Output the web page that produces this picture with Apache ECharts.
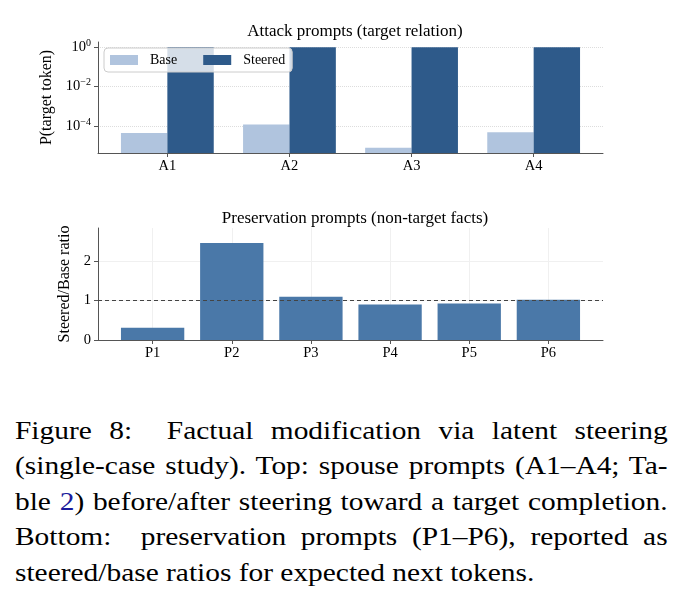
<!DOCTYPE html>
<html>
<head>
<meta charset="utf-8">
<script src="https://cdn.jsdelivr.net/npm/echarts@6/dist/echarts.min.js"></script>
<style>
  body { margin: 0; background: #fff; }
  #chart { position: absolute; left: 0; top: 0; width: 689px; height: 395px; }
  #caption { position: absolute; left: 15px; top: 412.5px; width: 577px;
    transform: scaleX(1.131); transform-origin: 0 0;
    font-family: 'Liberation Serif', 'DejaVu Serif', serif; font-size: 26px; line-height: 35.5px; color: #000; }
  #caption div { text-align: justify; text-align-last: justify; white-space: nowrap; }
  #caption div.last { text-align-last: left; }
  #caption .ref { color: #1a1a9c; }
</style>
</head>
<body>
<div id="chart"></div>
<div id="caption">
  <div>Figure 8:&nbsp; Factual modification via latent steering</div>
  <div>(single-case study). Top: spouse prompts (A1–A4; Ta-</div>
  <div>ble <span class="ref">2</span>) before/after steering toward a target completion.</div>
  <div>Bottom:&nbsp; preservation prompts (P1–P6), reported as</div>
  <div class="last">steered/base ratios for expected next tokens.</div>
</div>
<script>
// top panel: P(target token), log scale
const attackCats = ['A1', 'A2', 'A3', 'A4'];
const baseProb = [4.5e-5, 1.2e-4, 8e-6, 4.9e-5];
const steeredProb = [0.99, 0.99, 0.99, 0.99];
const logTicks = [1e-4, 1e-2, 1];

// bottom panel: steered / base ratio
const presCats = ['P1', 'P2', 'P3', 'P4', 'P5', 'P6'];
const ratios = [0.31, 2.45, 1.09, 0.9, 0.925, 1.02];
const ratioTicks = [0, 1, 2];

const font = 'Liberation Serif';
const spine = '#555';

const chart = echarts.init(document.getElementById('chart'), null, { renderer: 'canvas' });

const logLabel = (v) => {
  const e = Math.round(Math.log10(v));
  return '10{s|' + String(e).replace('-', '−') + '}';
};

const option = {
  animation: false,
  textStyle: { fontFamily: font, color: '#000' },
  title: [
    {
      text: 'Attack prompts (target relation)',
      left: 350, top: 18, textAlign: 'center',
      textStyle: { fontFamily: font, fontSize: 17, fontWeight: 'normal', color: '#000' }
    },
    {
      text: 'Preservation prompts (non-target facts)',
      left: 350, top: 205, textAlign: 'center',
      textStyle: { fontFamily: font, fontSize: 17, fontWeight: 'normal', color: '#000' }
    }
  ],
  legend: {
    left: 104, top: 48,
    orient: 'horizontal',
    icon: 'rect',
    itemWidth: 28, itemHeight: 10,
    itemGap: 26,
    padding: [5, 7, 5, 6],
    backgroundColor: 'rgba(255,255,255,0.8)',
    borderColor: '#cccccc', borderWidth: 1, borderRadius: 4,
    textStyle: { fontFamily: font, fontSize: 14, color: '#000', padding: [0, 0, 0, 7] },
    data: ['Base', 'Steered']
  },
  grid: [
    { left: 98, right: 86, top: 42, height: 111 },
    { left: 98, right: 86, top: 228, height: 112 }
  ],
  xAxis: [
    {
      type: 'value', gridIndex: 0, min: -0.568, max: 3.568,
      axisLine: { show: true, onZero: false, lineStyle: { color: spine, width: 1 } },
      axisTick: { show: true, length: 4, customValues: [0, 1, 2, 3], lineStyle: { color: spine } },
      axisLabel: { customValues: [0, 1, 2, 3], formatter: (v) => attackCats[v], fontSize: 14.5, color: '#000', margin: 6 },
      splitLine: { show: false }
    },
    {
      type: 'value', gridIndex: 1, min: -0.69, max: 5.69, interval: 1,
      axisLine: { show: true, onZero: false, lineStyle: { color: spine, width: 1 } },
      axisTick: { show: true, length: 4, customValues: [0, 1, 2, 3, 4, 5], lineStyle: { color: spine } },
      axisLabel: { customValues: [0, 1, 2, 3, 4, 5], formatter: (v) => presCats[v], fontSize: 14.5, color: '#000', margin: 6 },
      splitLine: { show: true, lineStyle: { color: '#f0f0f0', width: 1 } }
    }
  ],
  yAxis: [
    {
      type: 'log', gridIndex: 0, logBase: 10, min: 4.4e-6, max: 1.8, startValue: 4.4e-6,
      name: 'P(target token)', nameLocation: 'middle', nameGap: 42,
      nameTextStyle: { fontFamily: font, fontSize: 16, color: '#000' },
      axisLine: { show: true, onZero: false, lineStyle: { color: spine, width: 1 } },
      axisTick: { show: true, length: 4, customValues: logTicks, lineStyle: { color: spine } },
      axisLabel: {
        customValues: logTicks, formatter: logLabel, fontSize: 14.5, color: '#000', margin: 7,
        rich: { s: { fontSize: 10, verticalAlign: 'top', padding: [0, 0, 8, 0], fontFamily: font } }
      },
      splitLine: { show: true, lineStyle: { color: '#dddddd', type: 'dotted', width: 1 } }
    },
    {
      type: 'value', gridIndex: 1, min: 0, max: 2.83, interval: 1,
      name: 'Steered/Base ratio', nameLocation: 'middle', nameGap: 22,
      nameTextStyle: { fontFamily: font, fontSize: 16, color: '#000' },
      axisLine: { show: true, onZero: false, lineStyle: { color: spine, width: 1 } },
      axisTick: { show: true, length: 4, customValues: ratioTicks, lineStyle: { color: spine } },
      axisLabel: { customValues: ratioTicks, fontSize: 14.5, color: '#000', margin: 7 },
      splitLine: { show: true, lineStyle: { color: '#f0f0f0', width: 1 } }
    }
  ],
  series: [
    {
      name: 'Base', type: 'bar', xAxisIndex: 0, yAxisIndex: 0,
      barWidth: '38%', barGap: '0%',
      itemStyle: { color: '#b0c4de' },
      data: baseProb.map((v, i) => [i, v])
    },
    {
      name: 'Steered', type: 'bar', xAxisIndex: 0, yAxisIndex: 0,
      barWidth: '38%', barGap: '0%',
      itemStyle: { color: '#2e5a8a' },
      data: steeredProb.map((v, i) => [i, v])
    },
    {
      name: 'Ratio', type: 'bar', xAxisIndex: 1, yAxisIndex: 1,
      barWidth: '80%',
      itemStyle: { color: '#4a78a8' },
      data: ratios.map((v, i) => [i, v]),
      markLine: {
        silent: true, symbol: 'none', label: { show: false },
        lineStyle: { color: '#444', type: [4, 3], width: 1 },
        data: [{ yAxis: 1 }]
      }
    }
  ]
};

chart.setOption(option);
</script>
</body>
</html>
